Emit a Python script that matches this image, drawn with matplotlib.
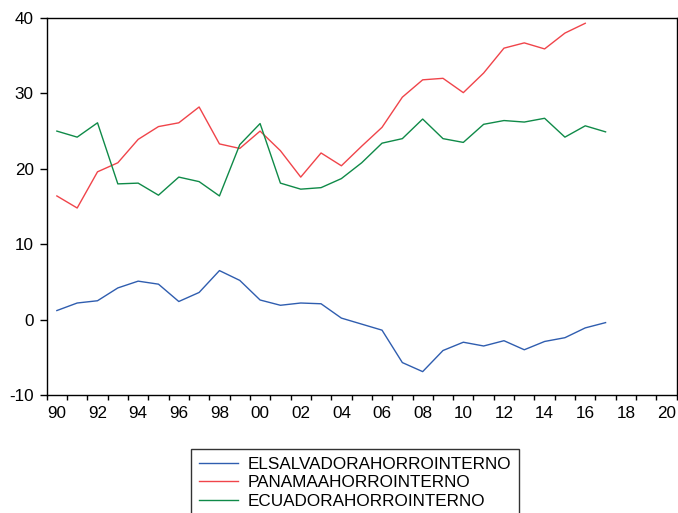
import matplotlib
matplotlib.use("Agg")
import matplotlib.pyplot as plt
from matplotlib.ticker import FixedLocator, FixedFormatter

plt.rcParams['font.family'] = ['Liberation Sans', 'DejaVu Sans']

years_es = list(range(1990, 2018))
el_salvador = [1.2, 2.2, 2.5, 4.2, 5.1, 4.7, 2.4, 3.6, 6.5, 5.2, 2.6, 1.9, 2.2, 2.1,
               0.2, -0.6, -1.4, -5.7, -6.9, -4.1, -3.0, -3.5, -2.8, -4.0, -2.9, -2.4, -1.1, -0.4]

years_pa = list(range(1990, 2017))
panama = [16.4, 14.8, 19.6, 20.8, 23.9, 25.6, 26.1, 28.2, 23.3, 22.7, 25.0, 22.4, 18.9, 22.1,
          20.4, 23.0, 25.5, 29.5, 31.8, 32.0, 30.1, 32.7, 36.0, 36.7, 35.9, 38.0, 39.3]

years_ec = list(range(1990, 2018))
ecuador = [25.0, 24.2, 26.1, 18.0, 18.1, 16.5, 18.9, 18.3, 16.4, 23.2, 26.0, 18.1, 17.3, 17.5,
           18.7, 20.8, 23.4, 24.0, 26.6, 24.0, 23.5, 25.9, 26.4, 26.2, 26.7, 24.2, 25.7, 24.9]

series_names = ["ELSALVADORAHORROINTERNO", "PANAMAAHORROINTERNO", "ECUADORAHORROINTERNO"]
label_years = list(range(1990, 2021, 2))
tick_labels = [f"{y % 100:02d}" for y in label_years]
y_ticks = [-10, 0, 10, 20, 30, 40]

fig = plt.figure(figsize=(6.78, 5.13), dpi=100)
ax = fig.add_axes([46.7 / 678, 1 - 395 / 513, 630 / 678, 377 / 513])

c_blue = "#2F5DAF"
c_red = "#F0444A"
c_green = "#0F8A48"

l1, = ax.plot([y + 0.5 for y in years_es], el_salvador, color=c_blue, lw=1.0)
l2, = ax.plot([y + 0.5 for y in years_pa], panama, color=c_red, lw=1.0)
l3, = ax.plot([y + 0.5 for y in years_ec], ecuador, color=c_green, lw=1.0)

ax.set_xlim(1990, 2021)
ax.set_ylim(-10, 40)
ax.set_yticks(y_ticks)
ax.set_yticklabels([str(t) for t in y_ticks], fontsize=12.3)

ax.xaxis.set_major_locator(FixedLocator(list(range(1990, 2022))))
ax.xaxis.set_major_formatter(FixedFormatter([""] * 32))
ax.xaxis.set_minor_locator(FixedLocator([y + 0.5 for y in label_years]))
ax.xaxis.set_minor_formatter(FixedFormatter(tick_labels))
ax.tick_params(axis='x', which='major', length=3.6, width=1, direction='out', color='black')
ax.tick_params(axis='x', which='minor', length=0, labelsize=12.3, pad=8)
ax.tick_params(axis='y', which='major', length=5.3, width=1, direction='out', pad=4)

for s in ax.spines.values():
    s.set_linewidth(1.0)
    s.set_color('black')

leg = fig.legend([l1, l2, l3], series_names,
                 loc='upper left', bbox_to_anchor=(191 / 678, 1 - 449 / 513),
                 fontsize=12.3, frameon=True, fancybox=False, edgecolor='black',
                 handlelength=2.3, handletextpad=0.55, borderpad=0.45,
                 labelspacing=0.2, borderaxespad=0)
leg.get_frame().set_linewidth(1.0)

fig.savefig("out.png", dpi=100)
